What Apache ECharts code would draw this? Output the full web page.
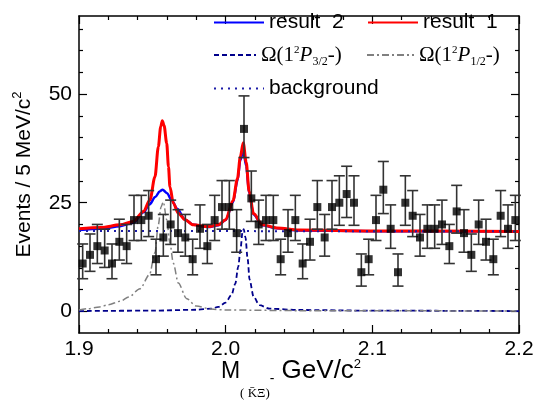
<!DOCTYPE html>
<html>
<head>
<meta charset="utf-8">
<script src="https://cdn.jsdelivr.net/npm/echarts@6/dist/echarts.min.js"></script>
<style>html,body{margin:0;padding:0;background:#fff}#c{width:535px;height:407px}</style>
</head>
<body>
<div id="c"></div>
<script>
// ---- data ----
const masses = [1.9025,1.9075,1.9125,1.9175,1.9225,1.9275,1.9325,1.9375,1.9425,1.9475,
  1.9525,1.9575,1.9625,1.9675,1.9725,1.9775,1.9825,1.9875,1.9925,1.9975,
  2.0025,2.0075,2.0125,2.0175,2.0225,2.0275,2.0325,2.0375,2.0425,2.0475,
  2.0525,2.0575,2.0625,2.0675,2.0725,2.0775,2.0825,2.0875,2.0925,2.0975,
  2.1025,2.1075,2.1125,2.1175,2.1225,2.1275,2.1325,2.1375,2.1425,2.1475,
  2.1525,2.1575,2.1625,2.1675,2.1725,2.1775,2.1825,2.1875,2.1925,2.1975];
const counts = [11,13,15,14,11,16,15,21,21,22,
  12,17,20,18,17,12,19,15,21,24,
  24,18,42,26,20,21,21,12,18,21,
  11,16,24,17,24,25,27,25,9,12,
  21,28,19,9,25,22,17,19,19,20,
  15,23,18,13,20,16,12,22,19,21];
const errLow = [3.5,3.8,4.0,3.9,3.5,4.2,4.0,4.7,4.7,4.8,
  3.6,4.3,4.6,4.4,4.3,3.6,4.5,4.0,4.7,5.1,
  5.1,4.4,6.6,5.3,4.6,4.7,4.7,3.6,4.4,4.7,
  3.5,4.2,5.1,4.3,5.1,5.2,5.4,5.2,3.2,3.6,
  4.7,5.5,4.5,3.2,5.2,4.8,4.3,4.5,4.5,4.6,
  4.0,5.0,4.4,3.8,4.6,4.2,3.6,4.8,4.5,4.7];
const errHigh = [4.5,4.8,5.0,4.9,4.5,5.2,5.0,5.7,5.7,5.8,
  4.6,5.3,5.6,5.4,5.3,4.6,5.5,5.0,5.7,6.1,
  6.1,5.4,7.6,6.3,5.6,5.7,5.7,4.6,5.4,5.7,
  4.5,5.2,6.1,5.3,6.1,6.2,6.4,6.2,4.2,4.6,
  5.7,6.5,5.5,4.2,6.2,5.8,5.3,5.5,5.5,5.6,
  5.0,6.0,5.4,4.8,5.6,5.2,4.6,5.8,5.5,5.7];

const result1 = [[1.900,19.0],[1.915,19.3],[1.928,19.9],[1.937,20.7],[1.944,23.0],[1.9484,25.7],[1.9518,31.0],[1.9541,37.9],[1.9557,42.5],[1.9568,43.9],[1.958,42.8],[1.9598,38.7],[1.961,33.3],[1.962,28.7],[1.9643,24.9],[1.9677,22.6],[1.9723,21.1],[1.978,19.9],[1.988,19.5],[1.995,19.9],[2.000,21.1],[2.005,25.5],[2.008,30.5],[2.010,35.6],[2.012,38.8],[2.014,34.3],[2.016,27.6],[2.019,22.5],[2.025,19.9],[2.035,19.2],[2.050,18.7],[2.100,18.5],[2.200,18.4]];
const result2 = [[1.900,18.7],[1.915,19.0],[1.928,19.6],[1.937,20.4],[1.944,22.8],[1.948,24.6],[1.952,26.3],[1.955,27.6],[1.957,28.0],[1.960,27.2],[1.963,25.7],[1.967,23.6],[1.9723,21.1],[1.978,19.9],[1.988,19.4],[1.995,19.8],[2.000,21.0],[2.005,25.1],[2.008,30.0],[2.010,34.8],[2.012,37.0],[2.014,33.5],[2.016,27.2],[2.019,22.3],[2.025,19.8],[2.035,19.1],[2.050,18.6],[2.100,18.45],[2.200,18.35]];
const omegaP12 = [[1.900,0.3],[1.906,0.6],[1.914,1.0],[1.920,1.5],[1.928,2.3],[1.934,3.3],[1.9416,5.2],[1.948,8.4],[1.9518,13.5],[1.954,19.8],[1.956,24.1],[1.9575,25.2],[1.9598,21.1],[1.962,15.7],[1.9643,11.1],[1.9677,6.5],[1.9734,2.9],[1.980,1.2],[1.990,0.5],[2.000,0.3],[2.050,0.15],[2.200,0.05]];
const omegaP32 = [[1.900,0.05],[1.950,0.15],[1.980,0.35],[1.990,0.6],[1.995,1.0],[2.000,2.0],[2.004,3.8],[2.0065,6.3],[2.0086,10.3],[2.010,14.0],[2.0115,18.2],[2.0123,18.9],[2.0135,17.0],[2.015,12.0],[2.0163,7.3],[2.019,3.4],[2.023,1.4],[2.030,0.6],[2.050,0.3],[2.100,0.15],[2.200,0.05]];
const background = [[1.900,18.5],[2.200,18.4]];

const xMajor = [1.9,2.0,2.1,2.2];
const xMinor = [1.92,1.94,1.96,1.98,2.02,2.04,2.06,2.08,2.12,2.14,2.16,2.18];
const yMajor = [0,25,50];
const yMinor = [5,10,15,20,30,35,40,45,55,60,65];

// ---- chart ----
const chart = echarts.init(document.getElementById('c'), null, {renderer:'canvas'});
const SANS = 'Liberation Sans, Arial, sans-serif';
const SERIF = 'Liberation Serif, Times New Roman, serif';

function xAx(pos, ticks, len, showLine, labels) {
  return {type:'value', min:1.9, max:2.2, position:pos,
    axisLine:{show:showLine, onZero:false, lineStyle:{color:'#000', width:1.5}},
    axisTick:{show:true, inside:true, length:len, customValues:ticks, lineStyle:{color:'#000', width:1.2}},
    axisLabel: labels ? {show:true, customValues:xMajor, formatter:v=>v.toFixed(1), color:'#000', fontSize:21, fontFamily:SANS, margin:6} : {show:false},
    splitLine:{show:false}};
}
function yAx(pos, ticks, len, showLine, labels) {
  return {type:'value', min:-5, max:68, position:pos,
    axisLine:{show:showLine, onZero:false, lineStyle:{color:'#000', width:1.5}},
    axisTick:{show:true, inside:true, length:len, customValues:ticks, lineStyle:{color:'#000', width:1.2}},
    axisLabel: labels ? {show:true, customValues:yMajor, color:'#000', fontSize:21, fontFamily:SANS, margin:7} : {show:false},
    splitLine:{show:false}};
}

const xAxes = [xAx('bottom', xMajor, 8, true, true), xAx('bottom', xMinor, 4, false, false),
               xAx('top', xMajor, 8, true, false), xAx('top', xMinor, 4, false, false)];
const yAxes = [yAx('left', yMajor, 8, true, true), yAx('left', yMinor, 4, false, false),
               yAx('right', yMajor, 8, true, false), yAx('right', yMinor, 4, false, false)];

xAxes[0].name = '{m|M}{s|( K\u0304\u039E)}{d|-}{g| GeV/c}{p|2}';
xAxes[0].nameLocation = 'middle';
xAxes[0].nameGap = 24.5;
xAxes[0].nameMoveOverlap = false;
xAxes[0].nameTextStyle = {color:'#000', padding:[0,16,0,0], rich:{
  m:{fontSize:23, fontFamily:SANS, color:'#000', lineHeight:28, verticalAlign:'top', padding:[2.5,0,0,0]},
  g:{fontSize:26, fontFamily:SANS, color:'#000', lineHeight:28, verticalAlign:'top'},
  s:{fontSize:13, fontFamily:SERIF, color:'#000', lineHeight:44, verticalAlign:'top', padding:[29.5,0,0,0]},
  d:{fontSize:14, fontFamily:SANS, color:'#000', lineHeight:28, verticalAlign:'top', padding:[14.5,0,0,0]},
  p:{fontSize:13, fontFamily:SANS, color:'#000', lineHeight:13, verticalAlign:'top'}
}};
yAxes[0].name = '{a|Events / 5 MeV/c}{s|2}';
yAxes[0].nameLocation = 'middle';
yAxes[0].nameGap = 42;
yAxes[0].nameMoveOverlap = false;
yAxes[0].nameTextStyle = {color:'#000', rich:{
  a:{fontSize:21, fontFamily:SANS, color:'#000', lineHeight:26, verticalAlign:'middle'},
  s:{fontSize:13, fontFamily:SANS, color:'#000', lineHeight:13, verticalAlign:'top'}
}};

const dataPts = masses.map((m,i)=>[m, counts[i], errLow[i], errHigh[i]]);

const omegaRich = {
  o:{fontSize:21, fontFamily:SERIF, color:'#000', lineHeight:26, verticalAlign:'middle'},
  i:{fontSize:21, fontFamily:SERIF, fontStyle:'italic', color:'#000', lineHeight:26, verticalAlign:'middle'},
  sp:{fontSize:11, fontFamily:SERIF, color:'#000', lineHeight:11, verticalAlign:'top', padding:[3,0,0,0]},
  sb:{fontSize:12, fontFamily:SERIF, color:'#000', lineHeight:12, verticalAlign:'bottom'}
};
const N1 = 'result  1', N2 = 'result  2', NP32 = '\u03A9(1\u00B2P3/2-)', NP12 = '\u03A9(1\u00B2P1/2-)', NBG = 'background';
function legendFmt(name) {
  if (name === NP32) return '{o|\u03A9(1}{sp|2}{i|P}{sb|3/2}{o|-)}';
  if (name === NP12) return '{o|\u03A9(1}{sp|2}{i|P}{sb|1/2}{o|-)}';
  return name;
}
function leg(name, left, top, w) {
  return {data:[name], left:left, top:top, padding:0, itemWidth:w, itemHeight:14, itemGap:0,
    formatter:legendFmt, selectedMode:false, itemStyle:{opacity:0},
    textStyle:{fontSize:21, fontFamily:SANS, color:'#000', rich:omegaRich}};
}

const option = {
  animation:false,
  backgroundColor:'#fff',
  grid:{left:79, right:16, top:16, bottom:74, containLabel:false, outerBoundsMode:'none'},
  legend:[leg(N2, 213, 12, 50), leg(N1, 367, 12, 50), leg(NP32, 213, 42, 42), leg(NP12, 366, 42, 47), leg(NBG, 213, 78, 50)],
  xAxis:xAxes,
  yAxis:yAxes,
  series:[
    {name:NP32, type:'line', data:omegaP32, symbol:'none', smooth:0.3, smoothMonotone:'x', z:2,
     lineStyle:{color:'#00008b', width:1.8, type:[5,3]}, itemStyle:{color:'#00008b'}},
    {name:NP12, type:'line', data:omegaP12, symbol:'none', smooth:0.3, smoothMonotone:'x', z:2,
     lineStyle:{color:'#808080', width:1.5, type:[7,3,2,3]}, itemStyle:{color:'#808080'}},
    {name:N2, type:'line', data:result2, symbol:'none', smooth:0.3, smoothMonotone:'x', z:3,
     lineStyle:{color:'#0000ff', width:2.5}, itemStyle:{color:'#0000ff'}},
    {name:N1, type:'line', data:result1, symbol:'none', smooth:0.3, smoothMonotone:'x', z:4,
     lineStyle:{color:'#ff0000', width:3}, itemStyle:{color:'#ff0000'}},
    {name:NBG, type:'line', data:background, symbol:'none', z:5,
     lineStyle:{color:'#1c1ca8', width:2, type:[2,5]}, itemStyle:{color:'#1c1ca8'}},
    {name:'errors', type:'custom', data:dataPts, z:6, encode:{x:0, y:1},
     renderItem:function(params, api){
       const x = api.value(0), y = api.value(1), lo = api.value(2), hi = api.value(3);
       const t = api.coord([x, y+hi]), b = api.coord([x, y-lo]);
       const hw = 5.5, st = {stroke:'#333', lineWidth:1.6};
       return {type:'group', children:[
         {type:'line', shape:{x1:t[0], y1:t[1], x2:b[0], y2:b[1]}, style:st},
         {type:'line', shape:{x1:t[0]-hw, y1:t[1], x2:t[0]+hw, y2:t[1]}, style:st},
         {type:'line', shape:{x1:b[0]-hw, y1:b[1], x2:b[0]+hw, y2:b[1]}, style:st}
       ]};
     }},
    {name:'data', type:'scatter', data:masses.map((m,i)=>[m, counts[i]]), symbol:'rect', symbolSize:8, z:7,
     itemStyle:{color:'#000'}}
  ]
};
chart.setOption(option);
</script>
</body>
</html>
